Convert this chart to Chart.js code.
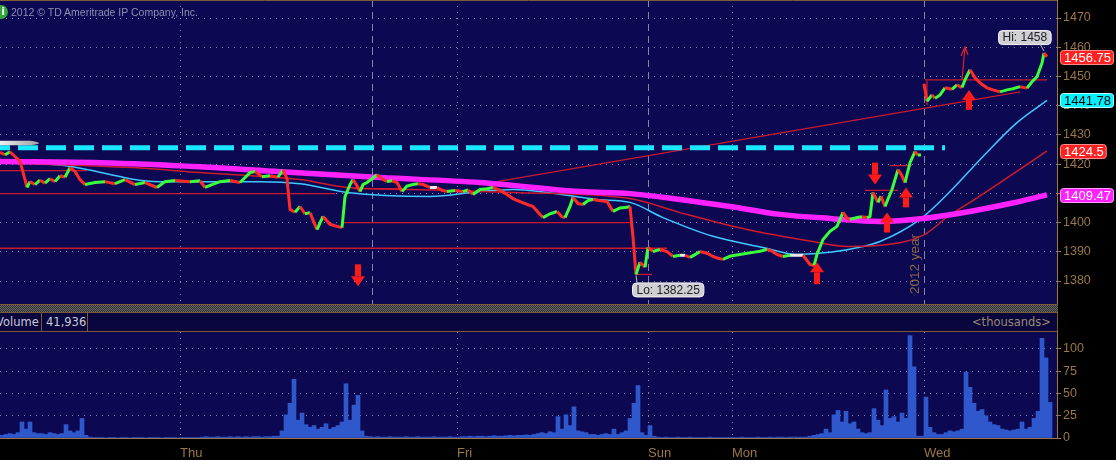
<!DOCTYPE html>
<html>
<head>
<meta charset="utf-8">
<title>Intraday chart</title>
<script src="https://cdn.jsdelivr.net/npm/chart.js@4.4.1/dist/chart.umd.min.js"></script>
<style>
  html, body { margin: 0; padding: 0; background: #000; }
  body { width: 1116px; height: 460px; position: relative; overflow: hidden; font-family: "Liberation Sans", Arial, sans-serif; }
  canvas { position: absolute; left: 0; }
  #price-chart { top: 0; }
  #volume-chart { top: 332px; }
  #info { position: absolute; left: -6px; top: 5px; width: 14px; height: 14px; border-radius: 50%; background: #2fa83a; color: #fff; font: bold 11px "DejaVu Sans", sans-serif; line-height: 14px; text-align: right; box-sizing: border-box; padding-right: 3px; }
  #copyright { position: absolute; left: 11px; top: 6px; font-size: 10.5px; color: #8e8eb4; }
  #separator { position: absolute; left: 0; top: 304px; width: 1058px; height: 7px; border-top: 1px solid #7a5c34; border-bottom: 1px solid #7a5c34;
    background: conic-gradient(#6a6a6a 25%, #2e2e2e 0 50%, #6a6a6a 0 75%, #2e2e2e 0) 0 0 / 2px 2px; }
  #vol-header { position: absolute; left: 0; top: 313px; width: 1057px; height: 18px; background: #08063c; border-right: 1px solid #7a5c34; border-bottom: 1px solid #7a5c34;
    font: 11.5px "DejaVu Sans", sans-serif; color: #c8c8d8; overflow: hidden; }
  #vol-header span { position: absolute; top: 0; line-height: 18px; }
  #vol-header i { position: absolute; top: 0; width: 1px; height: 18px; background: #7a5c34; }
</style>
</head>
<body>
<canvas id="price-chart" width="1116" height="304"></canvas>
<div id="separator"></div>
<div id="vol-header">
  <span style="left:-4px">Volume</span><i style="left:41px"></i>
  <span style="left:46px">41,936</span><i style="left:87px"></i>
  <span style="right:6px;color:#9a8a72">&lt;thousands&gt;</span>
</div>
<canvas id="volume-chart" width="1116" height="128"></canvas>
<div id="info">i</div>
<div id="copyright">2012 © TD Ameritrade IP Company, Inc.</div>
<script>
// x axis is counted in bars (one bar = one volume column)
const xMax = 264.25;
const dayName = ["Thu", "Fri", "Sun", "Mon", "Wed"];
const dayBar = [45, 114.25, 162, 183, 231];
const sessionBar = [93, 162, 231];
const priceTicks = [1380, 1390, 1400, 1410, 1420, 1430, 1440, 1450, 1460, 1470];
const volumeTicks = [0, 25, 50, 75, 100];

// price path
const priceBar = [0, 1.25, 2.5, 3.75, 5, 6, 6.75, 7.5, 8.75, 10, 11.25, 12.5, 13.75, 15, 16.25, 17.5, 18.75, 20, 21.25, 23.75,
  26.25, 28.75, 31.25, 33.75, 36.25, 39.25, 41.25, 43.75, 47.5, 50, 51.25, 53, 55, 57.5, 60, 62.5, 63.75, 65.5, 67.5, 69.5,
  70.75, 71.75, 72.5, 73.75, 75, 76.25, 77.5, 79.25, 80.75, 82.5, 84.25, 85.5, 86.25, 87.5, 88.25, 89.5, 90, 90.75, 91.75, 93,
  94.25, 95.5, 96.75, 98, 99.25, 100.5, 101.75, 103.25, 104.5, 105.75, 107.5, 109.25, 110.5, 111.75, 113.75, 115.75, 117, 118.25, 120, 121.75,
  123.25, 125, 126.75, 128.25, 130, 131.75, 133.25, 134.5, 135.75, 137.5, 139.25, 140.5, 141.25, 142.5, 143.25, 144.5, 145.75, 147, 148.25, 150,
  151.75, 153.25, 155, 156.75, 157.5, 158.25, 159, 160, 161.25, 162, 163.25, 165, 166.75, 168.25, 170, 171.25, 172.5, 173.75, 175, 176.75,
  178.25, 179.5, 180.75, 182.5, 183.75, 185, 186.75, 188.25, 190, 191.75, 193, 194.25, 195.75, 197.5, 199.25, 200.75, 202.5, 203.5, 204.25, 205.75,
  207.5, 209.25, 210.75, 211.75, 212.5, 214.25, 215.5, 216.75, 217.5, 218.25, 219.5, 220.25, 221.25, 222, 223, 224.5, 225.5, 226.25, 227.5, 228.75,
  229.5, 230.25, 230.6, 231, 231.75, 233, 233.75, 235, 236.25, 238, 239.25, 240.5, 241.25, 242.5, 243.75, 245, 246.75, 248.25, 250, 251.75,
  253.25, 255, 256.75, 258, 259.25, 260.5, 261, 261.75];
const priceClose = [1424.0, 1423.2, 1424.2, 1422.6, 1421.0, 1416.0, 1412.0, 1414.0, 1413.0, 1414.5, 1413.5, 1415.0, 1414.0, 1416.0, 1415.5, 1418.8, 1417.5, 1414.7, 1413.0, 1413.7,
  1414.0, 1413.3, 1414.7, 1413.0, 1413.7, 1412.0, 1414.0, 1414.4, 1414.0, 1414.3, 1412.0, 1413.0, 1414.0, 1414.4, 1413.7, 1417.1, 1417.5, 1415.7, 1416.0, 1415.5,
  1418.0, 1415.0, 1404.5, 1403.5, 1405.5, 1403.0, 1403.4, 1397.6, 1402.1, 1399.4, 1398.7, 1398.3, 1408.9, 1413.0, 1414.7, 1412.0, 1410.6, 1413.0, 1413.7, 1415.0,
  1416.4, 1415.0, 1414.0, 1414.3, 1413.7, 1410.6, 1412.5, 1413.0, 1413.3, 1413.0, 1412.0, 1412.0, 1411.0, 1410.6, 1411.0, 1410.6, 1411.2, 1409.6, 1411.3, 1411.6,
  1412.0, 1411.0, 1409.6, 1408.2, 1407.2, 1406.2, 1405.5, 1403.5, 1401.7, 1403.0, 1403.8, 1402.0, 1401.7, 1405.5, 1408.6, 1406.5, 1406.2, 1407.5, 1407.9, 1407.5,
  1407.2, 1403.8, 1405.0, 1405.2, 1405.5, 1395.0, 1382.25, 1386.4, 1384.7, 1391.5, 1390.1, 1390.8, 1390.1, 1388.4, 1388.8, 1388.8, 1388.1, 1389.0, 1390.1, 1389.5,
  1388.4, 1387.8, 1387.4, 1388.5, 1388.8, 1389.1, 1389.5, 1389.8, 1390.2, 1390.8, 1390.2, 1389.1, 1388.4, 1388.8, 1388.8, 1388.8, 1385.7, 1385.3, 1389.1, 1394.2,
  1397.0, 1398.7, 1403.5, 1401.5, 1401.1, 1401.7, 1402.0, 1401.7, 1402.1, 1410.3, 1406.9, 1409.0, 1405.5, 1408.0, 1411.3, 1418.1, 1416.0, 1413.7, 1420.5, 1424.3,
  1423.0, 1423.2, null, 1447.5, 1441.5, 1443.7, 1442.5, 1443.7, 1446.1, 1445.6, 1447.1, 1446.2, 1448.8, 1452.3, 1449.5, 1447.8, 1446.1, 1445.4, 1444.7, 1445.4,
  1445.8, 1446.5, 1446.0, 1448.2, 1449.9, 1454.6, 1458.0, 1456.75];

// moving averages
const magentaBar = [0, 25, 50, 70, 95, 120, 145, 157.5, 170, 182.5, 195, 207.5, 220, 230.75, 242.5, 252.5, 261.75];
const magentaVal = [1420.9, 1420.5, 1419.1, 1417.4, 1415.4, 1413.7, 1410.6, 1409.9, 1407.9, 1405.5, 1402.8, 1401.4, 1400.4, 1401.4, 1403.8, 1406.5, 1409.47];
const cyanBar = [0, 16, 40, 65, 75, 86.75, 107.5, 120, 128.25, 136.75, 149.25, 157.5, 165.75, 178.25, 190.75, 199.25, 207.5, 215.75, 220, 230, 237.5, 245.75, 254.25, 261.75];
const cyanVal = [1421.0, 1419.5, 1414.0, 1414.0, 1413.3, 1410.3, 1408.9, 1410.6, 1411.3, 1410.3, 1407.9, 1406.9, 1401.7, 1395.3, 1391.5, 1389.1, 1389.8, 1391.8, 1393.5, 1401.1, 1410.6, 1422.6, 1434.2, 1441.78];
const redBar = [0, 33.25, 50, 75, 86.75, 103.25, 128.25, 157.5, 170, 186.75, 203.25, 211.75, 220, 230.75, 237.5, 242.5, 250, 261.75];
const redVal = [1420.5, 1418.8, 1417.1, 1414.7, 1412.0, 1411.3, 1410.3, 1408.2, 1403.4, 1397.6, 1393.5, 1391.8, 1392.2, 1395.6, 1402.6, 1406.9, 1413.7, 1424.5];

// drawn levels and trend line
const segStartBar = [0, 0, 88.25, 85.75, 0, 159.25, 216.25, 222.5, 231.25, 231.75, 124.25];
const segStartPrice = [1417.8, 1409.9, 1411.6, 1400.0, 1391.2, 1382.25, 1411.0, 1419.5, 1448.8, 1448.5, 1414.0];
const segEndBar = [21.75, 83.75, 100, 158, 166.75, 163, 224.5, 228, 261.75, 231.75, 255];
const segEndPrice = [1417.8, 1409.9, 1411.6, 1400.0, 1391.2, 1382.25, 1411.0, 1419.5, 1448.8, 1440.2, 1444.7];
const dashBar = [0, 236.25];
const dashPrice = 1425.6;

// arrows
const arrowBar = [89.5, 204.25, 218.75, 221.75, 226.5, 242.25];
const arrowTail = [1385.7, 1378.9, 1420.5, 1396.6, 1405.2, 1438.6];
const arrowTip = [1378.2, 1386.4, 1413.0, 1403.4, 1412.0, 1445.4];
const sketchBar = [240.5, 241.25];
const sketchPrice = [1448.8, 1460.1];

// volume, thousands per bar
const volume = [3, 4, 5, 4, 6, 18, 10, 18, 6, 5,
  5, 4, 6, 5, 4, 5, 15, 8, 6, 8,
  22, 3, 1, 0.5, 0.5, 0.5, 0, 0.5, 0.5, 0,
  0.5, 0.5, 0, 0.5, 0.5, 0.5, 0, 0.5, 0.5, 0.5,
  0, 0.5, 0.5, 0.5, 0, 0.5, 0.5, 0.5, 0.5, 0.5,
  1, 1.5, 1, 1, 1.5, 1, 1, 1.5, 1, 1.5,
  1, 1.5, 1, 1.5, 1.5, 1, 1.5, 1.5, 2, 2,
  8, 26, 39, 66, 20, 28, 15, 12, 14, 10,
  12, 16, 10, 12, 14, 18, 61, 20, 37, 48,
  8, 2, 1.5, 1, 1.5, 1, 1, 1.5, 1, 1,
  1, 1.5, 1, 1, 1.5, 1, 1, 1, 1.5, 1,
  1, 1, 1.5, 1, 1, 1.5, 1.5, 2, 1.5, 2,
  2, 1.5, 2, 2.5, 2, 2, 2.5, 3, 2.5, 3,
  3, 3.5, 3, 4, 5, 6, 5, 7, 6, 24,
  10, 26, 14, 35, 8, 7, 6, 4, 4, 3,
  4, 5, 4, 10, 4, 6, 8, 22, 39, 59,
  6, 3, 14, 2, 1, 0.5, 1, 0.5, 0.5, 1,
  0.5, 0.5, 1, 0.5, 0.5, 0.5, 0.5, 1, 0.5, 0.5,
  0.5, 0.5, 0.5, 0.5, 0.5, 1, 0.5, 0.5, 0.5, 1,
  0.5, 0.5, 1, 0.5, 1, 1, 0.5, 1, 1, 1,
  1, 1, 2, 3, 4, 5, 10, 6, 26, 31,
  18, 30, 16, 18, 10, 6, 5, 6, 33, 20,
  14, 54, 22, 24, 18, 28, 22, 115, 80, 2,
  2, 46, 12, 6, 4, 4, 6, 8, 7, 8,
  10, 74, 57, 39, 30, 32, 25, 18, 15, 14,
  10, 9, 8, 9, 10, 18, 10, 12, 22, 30,
  112, 90, 40];

const tan = "#9a7748";
const gridDots = "#8484aa";
const plotBg = "#0c0852";
const axisFont = { family: "Liberation Sans", size: 12.5 };

const pts = (xs, ys) => xs.map((x, i) => ({ x, y: ys[i] }));

// fill the plot area navy
const panelBg = {
    id: "panelBg",
    beforeDraw(chart) {
        const { ctx, chartArea: a } = chart;
        ctx.save();
        ctx.fillStyle = plotBg;
        ctx.fillRect(a.left, a.top, a.right - a.left, a.bottom - a.top);
        ctx.restore();
    }
};

function vline(chart, bar, dash) {
    const { ctx, chartArea: a } = chart;
    const x = Math.round(chart.scales.x.getPixelForValue(bar)) + 0.5;
    ctx.save();
    ctx.strokeStyle = gridDots;
    ctx.lineWidth = 1;
    ctx.setLineDash(dash);
    ctx.beginPath();
    ctx.moveTo(x, a.top);
    ctx.lineTo(x, a.bottom);
    ctx.stroke();
    ctx.restore();
}

function roundBox(ctx, x, y, w, h, r) {
    ctx.beginPath();
    ctx.roundRect(x, y, w, h, r);
}

// day / session lines, arrows, tags and callouts of the price panel
const pricePanel = {
    id: "pricePanel",
    beforeDatasetsDraw(chart) {
        const { ctx, chartArea: a } = chart;
        dayBar.forEach(b => { if (!sessionBar.includes(b)) vline(chart, b, [1, 5]); });
        sessionBar.forEach(b => vline(chart, b, [7, 5]));
        ctx.save();
        ctx.strokeStyle = "#7a5c34";
        ctx.beginPath();
        ctx.moveTo(a.left, a.top + 0.5);
        ctx.lineTo(a.right, a.top + 0.5);
        ctx.stroke();
        ctx.restore();
    },
    afterDatasetsDraw(chart) {
        const { ctx } = chart;
        const xs = chart.scales.x, ys = chart.scales.y;
        ctx.save();

        // grey tab at the left end of the dashed level
        const ty = ys.getPixelForValue(dashPrice) - 4.5;
        const g = ctx.createLinearGradient(0, 0, 47, 0);
        g.addColorStop(0, "#f0f0f0");
        g.addColorStop(1, "#8c8c94");
        ctx.fillStyle = g;
        ctx.beginPath();
        ctx.moveTo(0, ty - 2.5);
        ctx.lineTo(30, ty - 2.5);
        ctx.quadraticCurveTo(48, ty, 30, ty + 2);
        ctx.lineTo(0, ty + 2);
        ctx.fill();

        // red arrows
        ctx.fillStyle = "#ff1a1a";
        arrowBar.forEach((b, i) => {
            const x = xs.getPixelForValue(b);
            const y0 = ys.getPixelForValue(arrowTail[i]);
            const y1 = ys.getPixelForValue(arrowTip[i]);
            const dir = Math.sign(y1 - y0);
            const neck = y1 - dir * 10;
            ctx.fillRect(x - 3, Math.min(y0, neck), 6, Math.abs(neck - y0));
            ctx.beginPath();
            ctx.moveTo(x - 7, neck);
            ctx.lineTo(x + 7, neck);
            ctx.lineTo(x, y1);
            ctx.closePath();
            ctx.fill();
        });

        // thin hand drawn arrow
        const sx0 = xs.getPixelForValue(sketchBar[0]), sy0 = ys.getPixelForValue(sketchPrice[0]);
        const sx1 = xs.getPixelForValue(sketchBar[1]), sy1 = ys.getPixelForValue(sketchPrice[1]);
        ctx.strokeStyle = "#e0202a";
        ctx.lineWidth = 1.2;
        ctx.beginPath();
        ctx.moveTo(sx0, sy0);
        ctx.lineTo(sx1, sy1);
        ctx.moveTo(sx1 - 4, sy1 + 9);
        ctx.lineTo(sx1, sy1);
        ctx.lineTo(sx1 + 3, sy1 + 8);
        ctx.stroke();

        // year marker
        const wx = xs.getPixelForValue(dayBar[4]);
        ctx.translate(wx - 2, 294);
        ctx.rotate(-Math.PI / 2);
        ctx.fillStyle = "#8a6a42";
        ctx.font = "13.5px 'Liberation Sans'";
        ctx.textBaseline = "bottom";
        ctx.textAlign = "left";
        ctx.fillText("2012 year", 0, 0);
        ctx.restore();

        // high / low callouts
        const vals = priceClose.filter(v => v !== null);
        const hi = Math.max(...vals), lo = Math.min(...vals);
        const hiX = xs.getPixelForValue(priceBar[priceClose.indexOf(hi)]), hiY = ys.getPixelForValue(hi);
        const loX = xs.getPixelForValue(priceBar[priceClose.indexOf(lo)]), loY = ys.getPixelForValue(lo);
        ctx.save();
        ctx.font = "12px 'Liberation Sans'";
        ctx.textBaseline = "middle";
        const callout = (text, bx, by, tx, ty, ax) => {
            const w = ctx.measureText(text).width + 8;
            ctx.fillStyle = "#cfcfd4";
            ctx.strokeStyle = "#f4f4f4";
            ctx.lineWidth = 1;
            roundBox(ctx, bx + 0.5, by + 0.5, w, 14, 4);
            ctx.fill();
            ctx.stroke();
            ctx.strokeStyle = "#bdbdc4";
            ctx.beginPath();
            ctx.moveTo(ax, ty > by ? by + 14 : by);
            ctx.lineTo(tx, ty);
            ctx.stroke();
            ctx.fillStyle = "#202028";
            ctx.fillText(text, bx + 4.5, by + 8);
        };
        callout("Hi: " + hi, hiX - 46, hiY - 23, hiX, hiY - 2, hiX - 4);
        callout("Lo: " + lo, loX - 4, loY + 8, loX, loY + 1, loX + 1);
        ctx.restore();
    },
    afterDraw(chart) {
        const { ctx } = chart;
        const ys = chart.scales.y;
        const tags = [
            { v: priceClose[priceClose.length - 1], fill: "#ff2222", edge: "#ff8a8a", text: "#ffffff" },
            { v: cyanVal[cyanVal.length - 1], fill: "#00f2ff", edge: "#b8ffff", text: "#000000" },
            { v: redVal[redVal.length - 1], fill: "#ff2222", edge: "#ff8a8a", text: "#ffffff" },
            { v: magentaVal[magentaVal.length - 1], fill: "#ff22ff", edge: "#ffa0ff", text: "#ffffff" }
        ];
        ctx.save();
        ctx.font = "13px 'Liberation Sans'";
        ctx.textBaseline = "middle";
        tags.forEach(t => {
            const y = Math.round(ys.getPixelForValue(t.v));
            const label = String(t.v);
            const w = ctx.measureText(label).width + 6;
            ctx.fillStyle = t.fill;
            ctx.strokeStyle = t.edge;
            roundBox(ctx, 1060.5, y - 6.5, w, 14, 3);
            ctx.fill();
            ctx.stroke();
            ctx.fillStyle = t.text;
            ctx.fillText(label, 1064, y + 1);
        });
        ctx.restore();
    }
};

const upColor = "#3cff3c", downColor = "#ff2b2b", flatColor = "#e8e8e8";

new Chart(document.getElementById("price-chart"), {
    type: "line",
    data: {
        datasets: [
            {
                data: pts(priceBar, priceClose),
                borderWidth: 3,
                spanGaps: false,
                segment: {
                    borderColor: c => c.p1.parsed.y > c.p0.parsed.y ? upColor : (c.p1.parsed.y < c.p0.parsed.y ? downColor : flatColor)
                },
                borderColor: upColor,
                order: 1
            },
            {
                data: pts(dashBar, dashBar.map(() => dashPrice)),
                borderColor: "#19e8ff",
                borderWidth: 5,
                borderDash: [20, 8],
                borderDashOffset: 10,
                borderCapStyle: "butt",
                order: 2
            },
            {
                data: pts(magentaBar, magentaVal),
                borderColor: "#ff22ff",
                borderWidth: 5.5,
                cubicInterpolationMode: "monotone",
                order: 3
            },
            {
                data: pts(redBar, redVal),
                borderColor: "#d01a30",
                borderWidth: 1.5,
                cubicInterpolationMode: "monotone",
                order: 4
            },
            {
                data: pts(cyanBar, cyanVal),
                borderColor: "#40c8ff",
                borderWidth: 1.5,
                cubicInterpolationMode: "monotone",
                order: 5
            },
            ...segStartBar.map((b, i) => ({
                data: [{ x: b, y: segStartPrice[i] }, { x: segEndBar[i], y: segEndPrice[i] }],
                borderColor: "#c81a2e",
                borderWidth: 1.3,
                order: 6
            }))
        ]
    },
    options: {
        responsive: false,
        animation: false,
        devicePixelRatio: 1,
        events: [],
        layout: { padding: 0 },
        elements: { point: { radius: 0 }, line: { tension: 0 } },
        plugins: { legend: { display: false }, tooltip: { enabled: false } },
        scales: {
            x: { type: "linear", min: 0, max: xMax, display: false, offset: false },
            y: {
                position: "right",
                min: 1372.13,
                max: 1476.16,
                afterBuildTicks: s => { s.ticks = priceTicks.map(v => ({ value: v })); },
                afterFit: s => { s.width = 59; s.paddingTop = 0; s.paddingBottom = 0; },
                grid: { color: gridDots, lineWidth: 1, tickColor: tan, tickLength: 4 },
                border: { display: true, color: tan, dash: [1, 5] },
                ticks: { color: tan, font: axisFont, padding: 2, callback: v => String(v) }
            }
        }
    },
    plugins: [panelBg, pricePanel]
});

new Chart(document.getElementById("volume-chart"), {
    type: "bar",
    data: {
        datasets: [{
            data: volume.map((v, i) => ({ x: i + 0.5, y: v })),
            backgroundColor: "#2f58cc",
            borderWidth: 0,
            barPercentage: 1,
            categoryPercentage: 1
        }]
    },
    options: {
        responsive: false,
        animation: false,
        devicePixelRatio: 1,
        events: [],
        layout: { padding: 0 },
        plugins: { legend: { display: false }, tooltip: { enabled: false } },
        scales: {
            x: {
                type: "linear",
                min: 0,
                max: xMax,
                offset: false,
                afterBuildTicks: s => { s.ticks = dayBar.map(v => ({ value: v })); },
                afterFit: s => { s.height = 22; s.paddingLeft = 0; s.paddingRight = 0; },
                grid: { color: gridDots, drawTicks: false, offset: false },
                border: { display: true, color: tan, dash: [1, 5] },
                ticks: {
                    color: tan,
                    font: { family: "Liberation Sans", size: 13 },
                    padding: 8,
                    align: "start",
                    maxRotation: 0,
                    autoSkip: false,
                    callback: (v, i) => dayName[i]
                }
            },
            y: {
                position: "right",
                min: 0,
                max: 119.1,
                afterBuildTicks: s => { s.ticks = volumeTicks.map(v => ({ value: v })); },
                afterFit: s => { s.width = 59; s.paddingTop = 0; s.paddingBottom = 0; },
                grid: { color: c => c.tick && c.tick.value === 0 ? "rgba(0,0,0,0)" : gridDots, tickColor: tan, tickLength: 4 },
                border: { display: true, color: tan, dash: [1, 5] },
                ticks: { color: tan, font: axisFont, padding: 2 }
            }
        }
    },
    plugins: [panelBg]
});
</script>
</body>
</html>
